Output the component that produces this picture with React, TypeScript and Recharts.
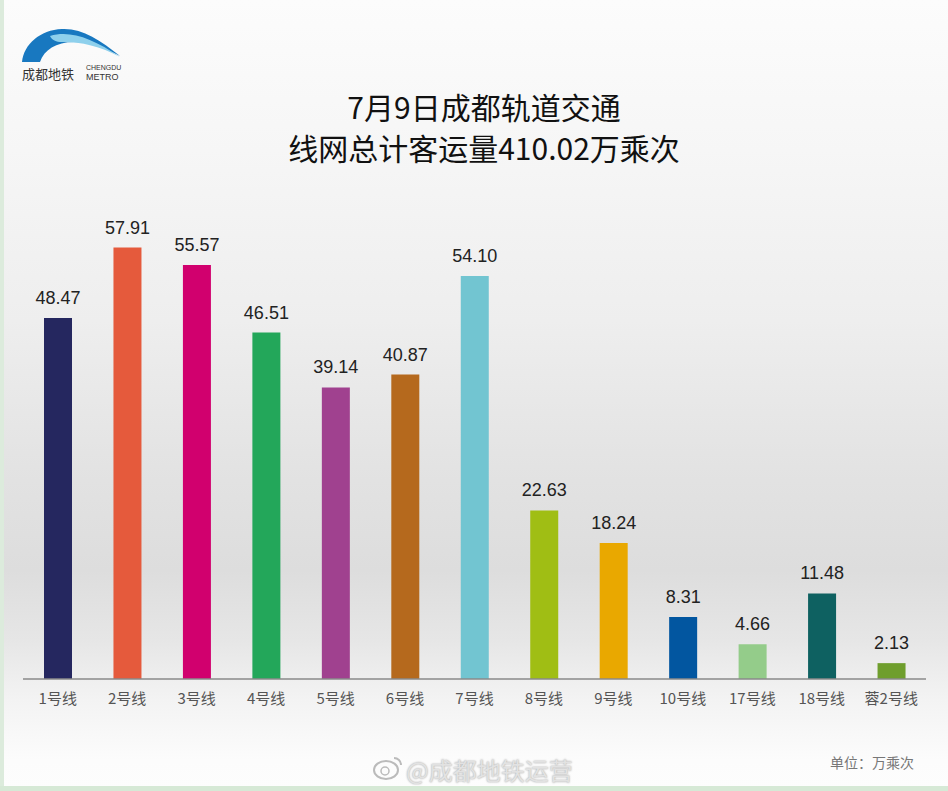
import React from 'react';
import { BarChart, Bar, XAxis, YAxis, Cell, LabelList } from 'recharts';

const categories = ['1号线', '2号线', '3号线', '4号线', '5号线', '6号线', '7号线', '8号线', '9号线', '10号线', '17号线', '18号线', '蓉2号线'];
const ridership = [48.47, 57.91, 55.57, 46.51, 39.14, 40.87, 54.10, 22.63, 18.24, 8.31, 4.66, 11.48, 2.13];
const lineColors = ['#25275f', '#e55a3c', '#d1006e', '#23a75a', '#a0418f', '#b5691d', '#72c5d1', '#a0be14', '#e9a800', '#0256a0', '#94cc8a', '#0e6161', '#6f9e2d'];
const titleLines = ['7月9日成都轨道交通', '线网总计客运量410.02万乘次'];

const data = categories.map((name, i) => ({ name, value: ridership[i], color: lineColors[i] }));

const FONT = '"Liberation Sans", Arial, "Noto Sans CJK SC", sans-serif';

export default function App() {
  return (
    <div
      style={{
        position: 'absolute',
        left: 0,
        top: 0,
        width: 948,
        height: 791,
        overflow: 'hidden',
        background:
          'linear-gradient(to bottom, #fcfcfc 0px, #f6f6f6 150px, #eeeeee 320px, #e2e2e2 480px, #dddddd 570px, #e6e6e6 640px, #f3f3f3 700px, #fcfcfc 760px, #fdfdfd 791px)',
        fontFamily: FONT,
      }}
    >
      {/* left and bottom green frame */}
      <div style={{ position: 'absolute', left: 0, top: 0, width: 4, height: 791, background: '#dcebdc' }} />
      <div style={{ position: 'absolute', left: 0, top: 786, width: 948, height: 5, background: '#d6e9d6' }} />

      {/* logo */}
      <svg style={{ position: 'absolute', left: 0, top: 0 }} width={140} height={90}>
        <path d="M22 62 C 24 44, 40 30, 62 29 C 82 28, 100 40, 120 56 C 104 48, 90 42, 74 42 C 56 42, 44 50, 40 62 Z" fill="#1878c0" />
        <path d="M50 36 C 70 30, 92 38, 120 57 C 100 46, 82 42, 62 42 C 56 42, 52 40, 50 36 Z" fill="#8ed0ec" />
        <text x={22} y={79} fontSize={13} fill="#333" fontFamily='"Noto Sans CJK SC", sans-serif'>成都地铁</text>
        <text x={86} y={70} fontSize={7} fill="#333" fontFamily={FONT}>CHENGDU</text>
        <text x={86} y={80} fontSize={9} fill="#333" fontFamily={FONT}>METRO</text>
      </svg>

      {/* title */}
      <div
        style={{
          position: 'absolute',
          left: 0,
          top: 86,
          width: 968,
          textAlign: 'center',
          fontFamily: '"Noto Sans CJK SC", sans-serif',
          fontSize: 30,
          lineHeight: '41px',
          color: '#111',
        }}
      >
        {titleLines.map((t) => (
          <div key={t}>{t}</div>
        ))}
      </div>

      <div style={{ position: 'absolute', left: 0, top: 0 }}>
        <BarChart width={948} height={791} data={data} margin={{ top: 232, right: 22, left: 23, bottom: 82 }}>
          <YAxis hide domain={[0, 60]} />
          <XAxis
            dataKey="name"
            axisLine={{ stroke: '#8a8a8a', strokeWidth: 1.5 }}
            tickLine={false}
            tick={{ fill: '#555', fontSize: 15, fontFamily: '"Noto Sans CJK SC", sans-serif' }}
            tickMargin={8}
            interval={0}
          />
          <Bar dataKey="value" barSize={28} isAnimationActive={false}>
            {data.map((d) => (
              <Cell key={d.name} fill={d.color} />
            ))}
            <LabelList
              dataKey="value"
              position="top"
              offset={14}
              formatter={(v: number) => v.toFixed(2)}
              style={{ fill: '#222', fontSize: 18, fontFamily: FONT }}
            />
          </Bar>
        </BarChart>
      </div>

      {/* footer watermarks */}
      <svg style={{ position: 'absolute', left: 372, top: 754 }} width={32} height={28}>
        <ellipse cx={14} cy={16} rx={12} ry={9} fill="none" stroke="#bbb" strokeWidth={2} />
        <circle cx={13} cy={17} r={4} fill="none" stroke="#bbb" strokeWidth={1.5} />
        <path d="M22 4 A 7 7 0 0 1 29 11" fill="none" stroke="#bbb" strokeWidth={2} />
      </svg>
      <div
        style={{
          position: 'absolute',
          left: 406,
          top: 752,
          fontSize: 24,
          color: '#e2e2e2',
          fontFamily: '"Noto Sans CJK SC", sans-serif',
          textShadow: '0 0 2px #999',
        }}
      >
        @成都地铁运营
      </div>
      <div
        style={{
          position: 'absolute',
          left: 830,
          top: 752,
          fontSize: 14,
          color: '#777',
          fontFamily: '"Noto Sans CJK SC", sans-serif',
        }}
      >
        单位：万乘次
      </div>
    </div>
  );
}
